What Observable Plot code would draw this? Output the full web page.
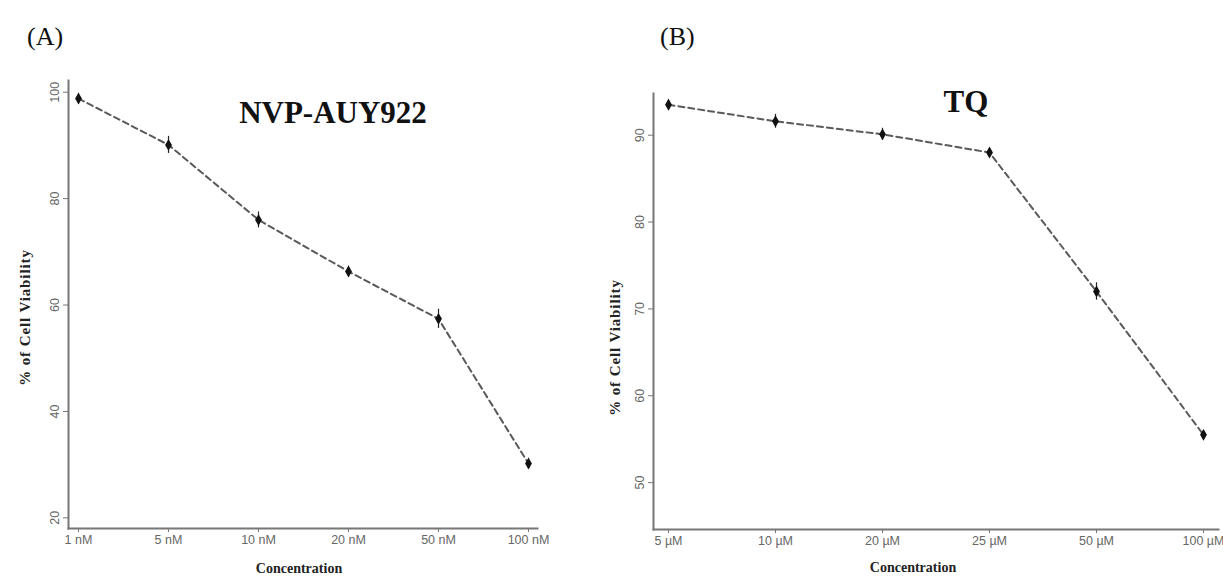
<!DOCTYPE html>
<html>
<head>
<meta charset="utf-8">
<script src="https://cdn.jsdelivr.net/npm/d3@7"></script>
<script src="https://cdn.jsdelivr.net/npm/@observablehq/plot@0.6"></script>
<style>
  body { margin: 0; background: #fff; }
  #wrap { position: relative; width: 1223px; height: 579px; overflow: hidden; background: #fff; }
  .panel { position: absolute; top: 0; }
  .tag { position: absolute; font-family: "Liberation Serif", "DejaVu Serif", serif; font-size: 26px; color: #111; }
</style>
</head>
<body>
<div id="wrap">
  <div class="tag" style="left:27px; top:22px;">(A)</div>
  <div class="tag" style="left:660px; top:22px;">(B)</div>
  <div id="pa" class="panel" style="left:0px;"></div>
  <div id="pb" class="panel" style="left:580px;"></div>
</div>
<script>
// Panel A: NVP-AUY922
const concA = ["1 nM", "5 nM", "10 nM", "20 nM", "50 nM", "100 nM"];
const viabA = [98.8, 90.1, 76.0, 66.3, 57.4, 30.2];
const errA  = [1.0, 1.6, 1.5, 1.0, 1.8, 1.0];
const yTicksA = [20, 40, 60, 80, 100];

// Panel B: TQ
const concB = ["5 µM", "10 µM", "20 µM", "25 µM", "50 µM", "100 µM"];
const viabB = [93.5, 91.6, 90.1, 88.0, 72.0, 55.5];
const errB  = [0.6, 0.8, 0.7, 0.5, 1.0, 0.5];
const yTicksB = [50, 60, 70, 80, 90];

const serif = "Liberation Serif, DejaVu Serif, serif";
const sans = "Liberation Sans, Arial, sans-serif";

function panel(o) {
  const data = o.conc.map((c, i) => ({c, v: o.viab[i], e: o.err[i]}));
  const svg = Plot.plot({
    width: o.width, height: 579,
    marginLeft: o.ml, marginRight: o.mr, marginTop: o.mt, marginBottom: o.mb,
    style: {background: "transparent", fontFamily: sans},
    x: {type: "point", domain: o.conc, padding: o.pad, label: null},
    y: {domain: o.yDomain, label: null},
    marks: [
      Plot.frame({anchor: "left", stroke: "#777", strokeWidth: 2}),
      Plot.frame({anchor: "bottom", stroke: "#777", strokeWidth: 2}),
      Plot.axisY({ticks: o.yTicks, tickSize: 5, tickRotate: -90, stroke: "#777", fill: "#666", fontSize: 12.5, tickPadding: 5, label: null}),
      Plot.axisX({tickSize: 4, stroke: "#777", fill: "#666", fontSize: 12.5, tickPadding: 3, label: null}),
      Plot.lineY(data, {x: "c", y: "v", stroke: "#5a5a5a", strokeWidth: 2, strokeDasharray: "6,4"}),
      Plot.ruleX(data, {x: "c", y1: d => d.v - d.e, y2: d => d.v + d.e, stroke: "#222", strokeWidth: 1.2}),
      Plot.dot(data, {x: "c", y: "v", symbol: "diamond", r: 3.6, fill: "#111", stroke: null}),
      Plot.text([o.title], {frameAnchor: "top", textAnchor: "middle", dx: o.tdx, dy: o.tdy, lineAnchor: "bottom", fontFamily: serif, fontWeight: "bold", fontSize: 31, fill: "#111"}),
      Plot.text(["% of Cell Viability"], {frameAnchor: "left", textAnchor: "middle", rotate: -90, dx: o.ydx, dy: o.ydy, fontFamily: serif, fontWeight: "bold", fontSize: 15, fill: "#222"}),
      Plot.text(["Concentration"], {frameAnchor: "bottom", textAnchor: "middle", dx: o.xdx, dy: o.xdy, fontFamily: serif, fontWeight: "bold", fontSize: 14, fill: "#222"})
    ]
  });
  d3.select(svg).selectAll("text")
    .filter(function() { return this.textContent === "% of Cell Viability"; })
    .attr("letter-spacing", "0.9px");
  return svg;
}

document.getElementById("pa").append(panel({
  conc: concA, viab: viabA, err: errA, yTicks: yTicksA, yDomain: [18, 102.2],
  width: 560, ml: 68, mr: 23, mt: 80, mb: 51, pad: 0.09,
  title: "NVP-AUY922", tdx: 30, tdy: 42,
  ydx: -43, ydy: 13, xdx: -4, xdy: 44
}));

document.getElementById("pb").append(panel({
  conc: concB, viab: viabB, err: errB, yTicks: yTicksB, yDomain: [44.6, 94.8],
  width: 643, ml: 73, mr: 5, mt: 93, mb: 50, pad: 0.12,
  title: "TQ", tdx: 30, tdy: 18,
  ydx: -38, ydy: 36, xdx: -23, xdy: 42
}));
</script>
</body>
</html>
